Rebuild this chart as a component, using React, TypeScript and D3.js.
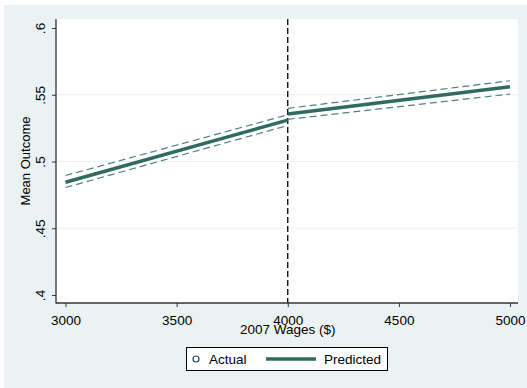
import { useEffect, useRef } from "react";
import * as d3 from "d3";

// wages cutoff at 4000, one segment on each side
const leftWages = [3000, 4000];
const rightWages = [4000, 5000];

const leftPredicted = [0.4845, 0.531];
const rightPredicted = [0.5355, 0.556];

const leftUpper = [0.4895, 0.535];
const leftLower = [0.4805, 0.527];
const rightUpper = [0.5398, 0.5605];
const rightLower = [0.5316, 0.5505];

const xTicks = [3000, 3500, 4000, 4500, 5000];
const yTicks = [0.4, 0.45, 0.5, 0.55, 0.6];
const yTickLabels = [".4", ".45", ".5", ".55", ".6"];
const cutoff = 4000;

const WIDTH = 527;
const HEIGHT = 388;
const BG = "#eaf2f3";
const LINE = "#2f6b5f";
const CI = "#4f8378";
const FONT = "'Liberation Sans', Arial, sans-serif";

function RdPlot() {
  const svgRef = useRef<SVGSVGElement>(null);

  useEffect(() => {
    const svg = d3.select(svgRef.current);
    svg.selectAll("*").remove();

    const plot = { left: 56, right: 518, top: 19, bottom: 303 };

    const xScale = d3.scaleLinear().domain([3000, 5000]).range([65.5, 510]);
    const yScale = d3.scaleLinear().domain([0.4, 0.6]).range([295, 28]);

    svg.append("rect").attr("width", WIDTH).attr("height", HEIGHT).attr("fill", "#fff");
    svg.append("rect")
      .attr("x", 4).attr("y", 5)
      .attr("width", WIDTH - 4).attr("height", HEIGHT - 5)
      .attr("fill", BG);
    svg.append("rect")
      .attr("x", plot.left).attr("y", plot.top)
      .attr("width", plot.right - plot.left).attr("height", plot.bottom - plot.top)
      .attr("fill", "#fff");

    // gridlines
    svg.append("g")
      .selectAll("line")
      .data(yTicks.filter(t => t > 0.4 && t < 0.6))
      .join("line")
      .attr("x1", plot.left).attr("x2", plot.right)
      .attr("y1", d => yScale(d)).attr("y2", d => yScale(d))
      .attr("stroke", BG).attr("stroke-width", 1.2);

    // cutoff
    svg.append("line")
      .attr("x1", xScale(cutoff)).attr("x2", xScale(cutoff))
      .attr("y1", plot.top).attr("y2", plot.bottom)
      .attr("stroke", "#000").attr("stroke-width", 1.3)
      .attr("stroke-dasharray", "6,3");

    const line = d3.line<[number, number]>()
      .x(d => xScale(d[0]))
      .y(d => yScale(d[1]));

    const seg = (xs: number[], ys: number[]) =>
      xs.map((x, i) => [x, ys[i]] as [number, number]);

    const ciLines = [
      seg(leftWages, leftUpper), seg(leftWages, leftLower),
      seg(rightWages, rightUpper), seg(rightWages, rightLower)
    ];
    svg.append("g")
      .selectAll("path")
      .data(ciLines)
      .join("path")
      .attr("d", d => line(d))
      .attr("fill", "none")
      .attr("stroke", CI)
      .attr("stroke-width", 1.2)
      .attr("stroke-dasharray", "7,4");

    svg.append("g")
      .selectAll("path")
      .data([seg(leftWages, leftPredicted), seg(rightWages, rightPredicted)])
      .join("path")
      .attr("d", d => line(d))
      .attr("fill", "none")
      .attr("stroke", LINE)
      .attr("stroke-width", 3.5);

    // axes
    const yAxis = d3.axisLeft(yScale)
      .tickValues(yTicks)
      .tickSize(4)
      .tickFormat((_, i) => yTickLabels[i]);
    const yG = svg.append("g")
      .attr("transform", `translate(${plot.left},0)`)
      .call(yAxis);
    yG.select(".domain").remove();
    yG.selectAll(".tick line").attr("stroke", "#333");
    yG.selectAll(".tick text")
      .attr("x", null).attr("dy", null)
      .attr("transform", "translate(-11,0) rotate(-90)")
      .attr("text-anchor", "middle")
      .attr("fill", "#000")
      .style("font", `13.5px ${FONT}`);

    const xAxis = d3.axisBottom(xScale)
      .tickValues(xTicks)
      .tickSize(4)
      .tickFormat(d3.format("d"));
    const xG = svg.append("g")
      .attr("transform", `translate(0,${plot.bottom})`)
      .call(xAxis);
    xG.select(".domain").remove();
    xG.selectAll(".tick line").attr("stroke", "#333");
    xG.selectAll(".tick text")
      .attr("y", 22).attr("dy", null)
      .attr("fill", "#000")
      .style("font", `13.5px ${FONT}`);

    svg.append("line")
      .attr("x1", plot.left).attr("x2", plot.left)
      .attr("y1", plot.top).attr("y2", plot.bottom + 0.5)
      .attr("stroke", "#333").attr("stroke-width", 1.3);
    svg.append("line")
      .attr("x1", plot.left).attr("x2", plot.right)
      .attr("y1", plot.bottom).attr("y2", plot.bottom)
      .attr("stroke", "#333").attr("stroke-width", 1.3);

    // titles
    svg.append("text")
      .attr("x", xScale(cutoff)).attr("y", 334)
      .attr("text-anchor", "middle")
      .style("font", `13.5px ${FONT}`)
      .text("2007 Wages ($)");
    svg.append("text")
      .attr("transform", `translate(30,${(plot.top + plot.bottom) / 2}) rotate(-90)`)
      .attr("text-anchor", "middle")
      .style("font", `13px ${FONT}`)
      .text("Mean Outcome");

    // legend
    const lg = svg.append("g");
    lg.append("rect")
      .attr("x", 186.5).attr("y", 347.5).attr("width", 201).attr("height", 23)
      .attr("fill", "#fff").attr("stroke", "#000").attr("stroke-width", 1);
    lg.append("circle")
      .attr("cx", 196).attr("cy", 359).attr("r", 3)
      .attr("fill", "#fff").attr("stroke", "#1a476f").attr("stroke-width", 1.2);
    lg.append("text")
      .attr("x", 209).attr("y", 364)
      .style("font", `13.5px ${FONT}`)
      .text("Actual");
    lg.append("line")
      .attr("x1", 266).attr("x2", 316).attr("y1", 359).attr("y2", 359)
      .attr("stroke", LINE).attr("stroke-width", 3.5);
    lg.append("text")
      .attr("x", 324).attr("y", 364)
      .style("font", `13.5px ${FONT}`)
      .text("Predicted");
  }, []);

  return (
    <div style={{ position: "absolute", left: 0, top: 0 }}>
      <svg ref={svgRef} width={WIDTH} height={HEIGHT} style={{ display: "block" }} />
    </div>
  );
}

export default function App() {
  return <RdPlot />;
}
